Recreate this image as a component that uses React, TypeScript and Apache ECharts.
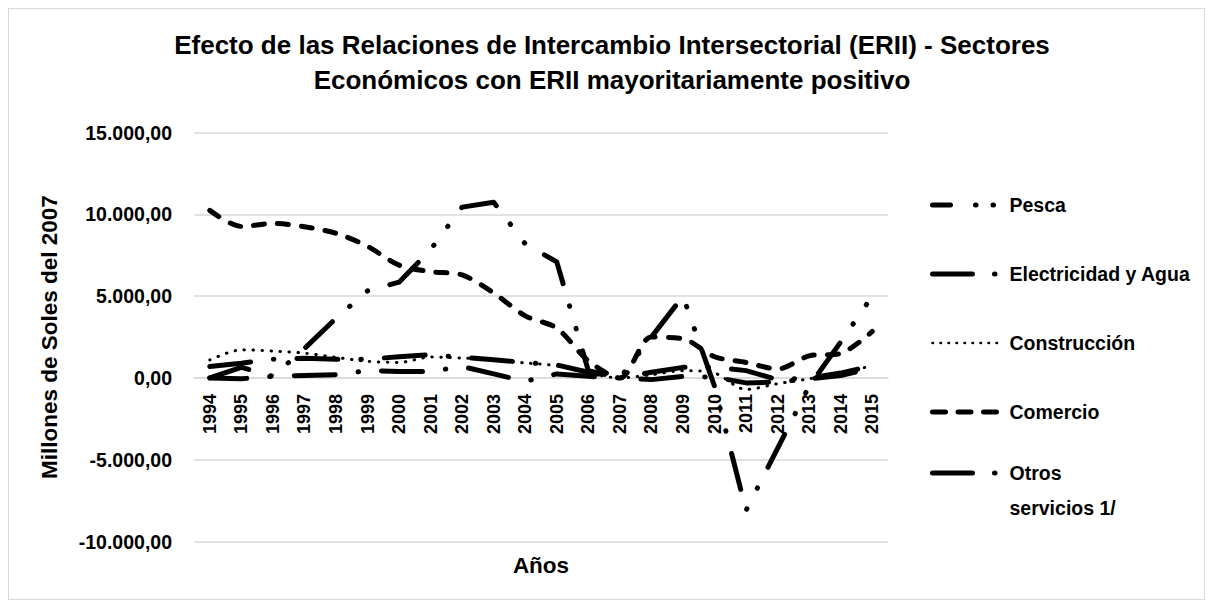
import React, { useEffect, useRef } from "react";
import * as echarts from "echarts";

const years = [
  "1994", "1995", "1996", "1997", "1998", "1999", "2000", "2001", "2002", "2003", "2004",
  "2005", "2006", "2007", "2008", "2009", "2010", "2011", "2012", "2013", "2014", "2015",
];

const pesca = [0, -50, 100, 1800, 3650, 5330, 5860, 7850, 10450, 10750, 8200, 7100, 450, 0, 2500, 5000, -500, -8100, -4300, -500, 2200, 5000];
const electricidad = [0, 650, 100, 150, 200, 450, 400, 400, 700, 250, -200, 250, 100, 0, -100, 100, 50, -300, -250, -50, 150, 600];
const construccion = [1100, 1720, 1650, 1520, 1260, 1020, 950, 1280, 1220, 1110, 920, 750, 300, 0, 200, 450, 300, -700, -350, -50, 300, 750];
const comercio = [10250, 9270, 9450, 9250, 8850, 8050, 6900, 6500, 6300, 5200, 3800, 3050, 1050, 0, 2500, 2400, 1300, 950, 550, 1350, 1500, 2850];
const otros = [700, 900, 1150, 1200, 1150, 1150, 1300, 1420, 1260, 1110, 950, 800, 350, 0, 350, 650, 650, 450, -100, 0, 300, 750];

const seriesNames = ["Pesca", "Electricidad y Agua", "Construcción", "Comercio", "Otros servicios 1/"];

const FONT = "'Liberation Sans', Arial, sans-serif";

const Y_MIN = -10000;
const Y_MAX = 15000;
const GRID_H = 408.8;

function fmt(v: number): string {
  const neg = v < 0;
  const s = Math.round(Math.abs(v)).toString().replace(/\B(?=(\d{3})+(?!\d))/g, ".");
  return (neg ? "-" : "") + s + ",00";
}

export default function App() {
  const ref = useRef<HTMLDivElement>(null);
  useEffect(() => {
    if (!ref.current) return;
    const chart = echarts.init(ref.current, undefined, { renderer: "svg" });
    const base = { type: "line", symbol: "none", showSymbol: false, itemStyle: { color: "#000" } };
    const LW = 5;
    const thick = (type: number[]) => ({ color: "#000", width: LW, type, cap: "round", join: "round" });
    const legendText = { fontFamily: FONT, fontSize: 19.5, fontWeight: "bold", color: "#000" };
    const legendCommon = {
      orient: "vertical",
      left: 921,
      padding: 0,
      itemWidth: 65,
      itemHeight: 14,
      itemStyle: { color: "rgba(0,0,0,0)", borderColor: "rgba(0,0,0,0)", borderWidth: 0 },
    };
    chart.setOption({
      animation: false,
      backgroundColor: "#fff",
      title: {
        text: "Efecto de las Relaciones de Intercambio Intersectorial (ERII) - Sectores\nEconómicos con ERII mayoritariamente positivo",
        left: 603,
        top: 18.5,
        padding: 0,
        textAlign: "center",
        textStyle: { fontFamily: FONT, fontSize: 26, fontWeight: "bold", color: "#000", lineHeight: 35 },
      },
      legend: [
        {
          ...legendCommon,
          top: 184,
          itemGap: 45,
          data: [
            { name: seriesNames[0], lineStyle: { color: "#000", width: LW, type: [18, 25, 0.5, 17, 0.5, 60], cap: "round" } },
            { name: seriesNames[1], lineStyle: { color: "#000", width: LW, type: [40, 22, 0.5, 60], cap: "round" } },
            { name: seriesNames[2], lineStyle: { color: "#000", width: 2.5, type: [0.5, 7.5], cap: "round" } },
            { name: seriesNames[3], lineStyle: { color: "#000", width: LW, type: [13, 12.5], cap: "round" } },
          ],
          textStyle: { ...legendText, lineHeight: 24, padding: [0, 0, 0, 7] },
        },
        {
          ...legendCommon,
          top: 411.5,
          data: [
            { name: seriesNames[4], lineStyle: { color: "#000", width: LW, type: [40, 22, 0.5, 60], cap: "round" } },
          ],
          formatter: () => " \nOtros\nservicios 1/",
          textStyle: { ...legendText, lineHeight: 35, padding: [0, 0, 0, 7] },
        },
      ],
      grid: { left: 185, top: 123.7, width: 694, height: GRID_H, containLabel: false, outerBoundsMode: "none" },
      xAxis: {
        type: "category",
        data: years,
        boundaryGap: true,
        name: "Años",
        nameLocation: "middle",
        nameGap: 176,
        nameMoveOverlap: false,
        nameTextStyle: { fontFamily: FONT, fontSize: 22.5, fontWeight: "bold", color: "#000" },
        offset: -(GRID_H * (0 - Y_MIN)) / (Y_MAX - Y_MIN),
        axisLine: { show: true, onZero: false, lineStyle: { color: "#d9d9d9", width: 1.5 } },
        axisTick: { show: false },
        axisLabel: { rotate: 90, margin: 16, interval: 0, fontFamily: FONT, fontSize: 18, fontWeight: "bold", color: "#000" },
        splitLine: { show: false },
      },
      yAxis: {
        type: "value",
        min: Y_MIN,
        max: Y_MAX,
        interval: 5000,
        name: "Millones de Soles del 2007",
        nameLocation: "middle",
        nameGap: 133,
        nameMoveOverlap: false,
        nameTextStyle: { fontFamily: FONT, fontSize: 22.5, fontWeight: "bold", color: "#000" },
        axisLine: { show: false },
        axisTick: { show: false },
        axisLabel: { formatter: fmt, margin: 22, fontFamily: FONT, fontSize: 19.5, fontWeight: "bold", color: "#000" },
        splitLine: { show: true, lineStyle: { color: "#d9d9d9", width: 1.5 } },
      },
      series: [
        { ...base, name: seriesNames[0], data: pesca, lineStyle: thick([37, 23, 0.5, 23, 0.5, 23]) },
        { ...base, name: seriesNames[1], data: electricidad, lineStyle: thick([41, 23, 0.5, 23]) },
        {
          ...base,
          name: seriesNames[2],
          data: construccion,
          smooth: 0.3,
          lineStyle: { color: "#000", width: 3, type: [0.5, 8.5], cap: "round", join: "round" },
        },
        { ...base, name: seriesNames[3], data: comercio, smooth: 0.3, lineStyle: thick([11, 13]) },
        { ...base, name: seriesNames[4], data: otros, lineStyle: thick([41, 23, 0.5, 23]) },
      ],
    });
    return () => chart.dispose();
  }, []);
  return (
    <div style={{ width: 1195, height: 590, border: "1px solid #d9d9d9", background: "#fff" }}>
      <div ref={ref} style={{ width: 1195, height: 590 }} />
    </div>
  );
}
